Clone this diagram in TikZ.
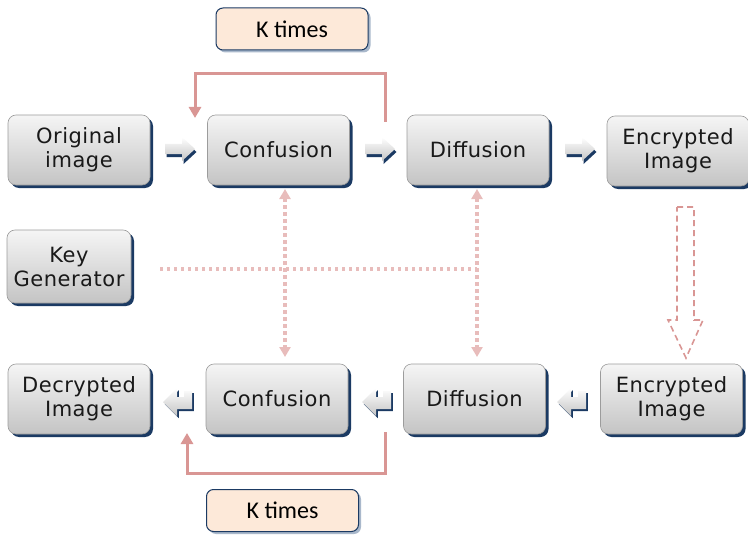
\documentclass[tikz,border=0pt]{standalone}
\usepackage{fontspec}
\setmainfont{DejaVu Sans}[LetterSpace=2.5]
\newfontfamily\kfont{Carlito}
\usetikzlibrary{shadows,arrows.meta}
\definecolor{boxtop}{HTML}{F5F5F5}
\definecolor{boxbot}{HTML}{C4C4C4}
\definecolor{boxline}{HTML}{9C9C9C}
\definecolor{navy}{HTML}{1B3A63}
\definecolor{loopred}{HTML}{D99694}
\definecolor{dotpink}{HTML}{E8BCBB}
\definecolor{kfill}{HTML}{FDE9D9}
\definecolor{kshadow}{HTML}{A9B8CB}
\begin{document}
\begin{tikzpicture}[x=1pt,y=-1pt,
  procbox/.style={rectangle, rounded corners=8pt, draw=boxline, line width=0.6pt,
    top color=boxtop, bottom color=boxbot, minimum width=142pt, minimum height=70pt,
    align=center, font=\fontsize{21}{24}\selectfont, text=black!90, inner sep=2pt,
    general shadow={fill=navy, shadow xshift=3pt, shadow yshift=-3pt}},
  kbox/.style={rectangle, rounded corners=7pt, draw=navy, line width=1pt, fill=kfill,
    minimum width=152pt, minimum height=42pt, font=\kfont\fontsize{24}{27}\selectfont,
    general shadow={fill=kshadow, shadow xshift=2.5pt, shadow yshift=-2.5pt}},
  loopline/.style={draw=loopred, line width=3pt, -{Triangle[width=12pt,length=11pt]}},
  keyline/.style={draw=dotpink, line width=3.2pt, dash pattern=on 3.2pt off 3.8pt},
  keyarrow/.style={keyline, {Triangle[width=11pt,length=10pt]}-{Triangle[width=11pt,length=10pt]}},
  hollow/.style={draw=loopred, line width=1.6pt, dash pattern=on 6pt off 4pt, line join=miter},
  chevR/.pic={
    \fill[navy, shift={(1.5,3)}] (0,-5) -- (17,-5) -- (17,-12) -- (30,0) -- (17,12) -- (17,5) -- (0,5) -- cycle;
    \shade[top color=white, bottom color=boxbot] (0,-5) -- (17,-5) -- (17,-12) -- (30,0) -- (17,12) -- (17,5) -- (0,5) -- cycle;
  },
  uturn/.pic={
    \fill[navy, shift={(1.8,2.2)}] (0,0) -- (14,-14) -- (14,-5) -- (21,-5) -- (21,-11) -- (29,-11) -- (29,7) -- (14,7) -- (14,14) -- cycle;
    \shade[top color=white, bottom color=boxbot] (0,0) -- (14,-14) -- (14,-5) -- (21,-5) -- (21,-11) -- (29,-11) -- (29,7) -- (14,7) -- (14,14) -- cycle;
  },
]
\useasboundingbox (0,0) rectangle (748,535);

% process boxes
\node[procbox] (orig) at (79,150) {Original\\image};
\node[procbox] (conf1) at (278.5,150) {Confusion};
\node[procbox] (diff1) at (478,150) {Diffusion};
\node[procbox] (enc1) at (678,151) {Encrypted\\Image};
\node[procbox, minimum width=124pt, minimum height=73pt] (key) at (69,266.5) {Key\\Generator};
\node[procbox] (dec) at (79,399) {Decrypted\\Image};
\node[procbox] (conf2) at (277,399) {Confusion};
\node[procbox] (diff2) at (474.5,399) {Diffusion};
\node[procbox] (enc2) at (671.5,399) {Encrypted\\Image};

% K times labels
\node[kbox] (k1) at (292,29) {K times};
\node[kbox] (k2) at (282.5,510.5) {K times};

% block arrows
\pic at (165,149) {chevR};
\pic at (365,149) {chevR};
\pic at (565,149) {chevR};
\pic at (163,402) {uturn};
\pic at (362,402) {uturn};
\pic at (557,402) {uturn};

% K-times loops
\coordinate (t1) at (385,122);
\coordinate (t2) at (195,118);
\draw[loopline] (t1) -- (385,74) -- (195,74) -- (t2);
\coordinate (b1) at (385,432);
\coordinate (b2) at (187,433);
\draw[loopline] (b1) -- (385,473) -- (187,473) -- (b2);

% key distribution (dotted)
\coordinate (v1t) at (285,189);
\coordinate (v1b) at (285,357);
\coordinate (v2t) at (477,189);
\coordinate (v2b) at (477,357);
\coordinate (hs) at (160,269);
\coordinate (he) at (477,269);
\draw[keyarrow] (v1t) -- (v1b);
\draw[keyarrow] (v2t) -- (v2b);
\draw[keyline] (hs) -- (he);

% hollow dashed transfer arrow
\draw[hollow] (677,207) -- (694,207) -- (694,320) -- (703,320) -- (686,358) -- (668,320) -- (677,320) -- cycle;
\end{tikzpicture}
\end{document}
